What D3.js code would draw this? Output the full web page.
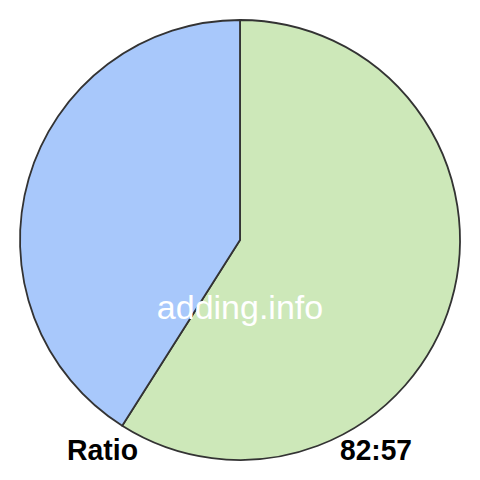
<!DOCTYPE html>
<html><head><meta charset="utf-8">
<script src="https://cdn.jsdelivr.net/npm/d3@7"></script>
<style>html,body{margin:0;padding:0;background:#fff;}</style>
</head><body>
<svg id="c" width="480" height="480"></svg>
<script>
const categories = ["first", "second"];
const values = [82, 57];
const colors = ["#cde8b9", "#a8c8fb"];
const leftLabel = "Ratio";
const rightLabel = "82:57";
const watermark = "adding.info";

const svg = d3.select("#c");
const cx = 240, cy = 240, r = 220;
const pie = d3.pie().sort(null).value(d => d.v);
const arc = d3.arc().innerRadius(0).outerRadius(r);
const data = categories.map((c, i) => ({c, v: values[i], col: colors[i]}));
const g = svg.append("g").attr("transform", `translate(${cx},${cy})`);
g.selectAll("path").data(pie(data)).enter().append("path")
  .attr("d", arc).attr("fill", d => d.data.col)
  .attr("stroke", "#333").attr("stroke-width", 1.8).attr("stroke-linejoin", "round");

svg.append("text").attr("x", 240).attr("y", 319).attr("text-anchor", "middle")
  .attr("font-family", "Liberation Sans, Arial, sans-serif").attr("font-size", 34)
  .attr("fill", "#fff").text(watermark);
svg.append("text").attr("x", 67).attr("y", 460)
  .attr("textLength", 71).attr("lengthAdjust", "spacingAndGlyphs")
  .attr("font-family", "Liberation Sans, Arial, sans-serif").attr("font-size", 29).attr("font-weight", "bold")
  .attr("fill", "#000").text(leftLabel);
svg.append("text").attr("x", 340).attr("y", 460)
  .attr("textLength", 72).attr("lengthAdjust", "spacingAndGlyphs")
  .attr("font-family", "Liberation Sans, Arial, sans-serif").attr("font-size", 29).attr("font-weight", "bold")
  .attr("fill", "#000").text(rightLabel);
</script>
</body></html>
